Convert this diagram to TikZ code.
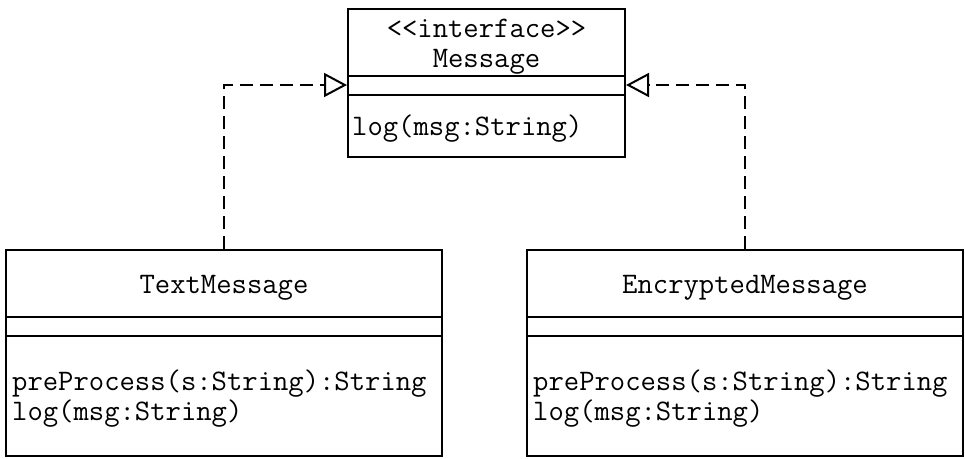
\documentclass[tikz,border=0pt]{standalone}
\usepackage{fontspec}
\usetikzlibrary{arrows.meta}
\begin{document}
\begin{tikzpicture}[x=1pt,y=-1pt,
  classbox/.style={draw, line width=2pt, rectangle, inner sep=0pt, minimum width=#1},
  sepline/.style={line width=2pt},
  txt/.style={inner sep=0pt, font=\ttfamily\fontsize{29.8}{30}\selectfont},
  realize/.style={line width=2pt, dash pattern=on 13pt off 7pt,
    -{Triangle[open, length=23pt, width=24pt, line width=2pt]}}]
\useasboundingbox (0,0) rectangle (965,458);
% boxes
\node[classbox=277pt, minimum height=148pt] (msg) at (486.5,83) {};
\node[classbox=436pt, minimum height=206pt] (tm) at (224,353) {};
\node[classbox=436pt, minimum height=206pt] (enc) at (745,353) {};
% separators
\draw[sepline] (msg.west |- 0,76) -- (msg.east |- 0,76);
\draw[sepline] (msg.west |- 0,95) -- (msg.east |- 0,95);
\draw[sepline] (tm.west |- 0,317) -- (tm.east |- 0,317);
\draw[sepline] (tm.west |- 0,336) -- (tm.east |- 0,336);
\draw[sepline] (enc.west |- 0,317) -- (enc.east |- 0,317);
\draw[sepline] (enc.west |- 0,336) -- (enc.east |- 0,336);
% texts
\node[txt, anchor=base] (msgst) at (486.5,37) {<<interface>>};
\node[txt, anchor=base] (msgname) at (486.5,67) {Message};
\node[txt, anchor=base west] (msgop) at (352,135) {log(msg:String)};
\node[txt, anchor=base] (tmname) at (224,293) {TextMessage};
\node[txt, anchor=base west] (tmop1) at (12,390) {preProcess(s:String):String};
\node[txt, anchor=base west] (tmop2) at (12,420) {log(msg:String)};
\node[txt, anchor=base] (encname) at (745,293) {EncryptedMessage};
\node[txt, anchor=base west] (encop1) at (533,390) {preProcess(s:String):String};
\node[txt, anchor=base west] (encop2) at (533,420) {log(msg:String)};
% connectors
\coordinate (msgl) at (msg.west |- 0,85);
\coordinate (msgr) at (msg.east |- 0,85);
\draw[realize] (tm.north) |- (msgl);
\draw[realize] (enc.north) |- (msgr);
\end{tikzpicture}
\end{document}
